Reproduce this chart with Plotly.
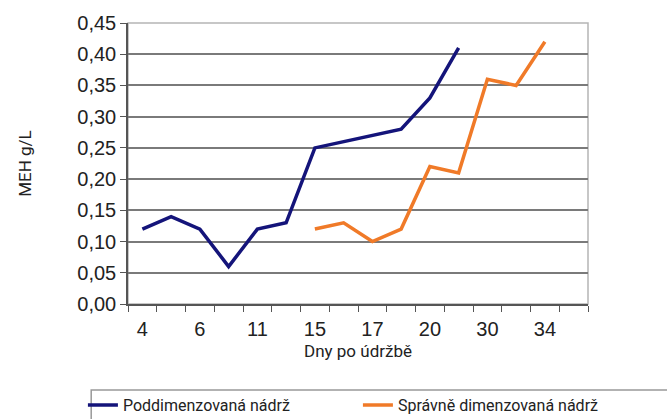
import plotly.graph_objects as go

# Category axis: 16 day categories, only every other one labelled
category_labels = ["4", "", "6", "", "11", "", "15", "", "17", "", "20", "", "30", "", "34", ""]
positions = list(range(len(category_labels)))

under_name = "Poddimenzovaná nádrž"
under_values = [0.12, 0.14, 0.12, 0.06, 0.12, 0.13, 0.25, 0.26, 0.27, 0.28, 0.33, 0.41]

proper_name = "Správně dimenzovaná nádrž"
proper_start = 6
proper_values = [0.12, 0.13, 0.10, 0.12, 0.22, 0.21, 0.36, 0.35, 0.42]

y_ticks = [0, 0.05, 0.10, 0.15, 0.20, 0.25, 0.30, 0.35, 0.40, 0.45]

fig = go.Figure()
fig.add_trace(go.Scatter(
    x=positions[:len(under_values)], y=under_values, mode="lines", name=under_name,
    line=dict(color="#14147a", width=3.5),
))
fig.add_trace(go.Scatter(
    x=positions[proper_start:proper_start + len(proper_values)], y=proper_values,
    mode="lines", name=proper_name,
    line=dict(color="#f07a28", width=3.5),
))

label_idx = [i for i, t in enumerate(category_labels) if t]
fig.update_xaxes(
    range=[-0.5, len(category_labels) - 0.5],
    tickmode="array", tickvals=label_idx, ticktext=[category_labels[i] for i in label_idx],
    ticks="", showgrid=False, zeroline=False,
    showline=True, linecolor="#555555", linewidth=1.5,
    ticklabelstandoff=6,
    tickfont=dict(family="Liberation Sans, Arial", size=20, color="#222222"),
    minor=dict(tickmode="linear", tick0=-0.5, dtick=1, ticks="outside", ticklen=6,
               tickcolor="#555555", tickwidth=1.2, showgrid=False),
    title=dict(text="Dny po údržbě", font=dict(family="Roboto", size=17, color="#222222"), standoff=6),
)
fig.update_yaxes(
    range=[0, 0.45], tickmode="array", tickvals=y_ticks,
    tickformat=".2f", ticks="outside", ticklen=6, tickcolor="#555555", tickwidth=1.2,
    showgrid=True, gridcolor="#7a7a7a", gridwidth=1.5, zeroline=False,
    showline=True, linecolor="#555555", linewidth=1.5,
    tickfont=dict(family="Liberation Sans, Arial", size=20, color="#222222"),
    title=dict(text="MEH g/L", font=dict(family="Roboto", size=17, color="#222222"), standoff=41),
)

# light grey frame on top and right of plot area
fig.add_shape(type="rect", xref="paper", yref="paper", x0=0, y0=0, x1=1, y1=1,
              line=dict(color="#b5b5b5", width=1.5), layer="below")
# legend frame
fig.add_shape(type="rect", xref="paper", yref="paper", x0=-0.080, x1=1.2, y0=-0.306, y1=-0.45,
              line=dict(color="#999999", width=1.5), fillcolor="rgba(0,0,0,0)")

fig.update_layout(
    width=667, height=419,
    margin=dict(l=128, r=79, t=23, b=115, autoexpand=False),
    paper_bgcolor="white", plot_bgcolor="white",
    separators=", ",
    showlegend=True,
    legend=dict(orientation="h", x=-0.098, xanchor="left", y=-0.36, yanchor="middle",
                font=dict(family="Roboto", size=16, color="#222222"),
                itemwidth=30, entrywidth=230, entrywidthmode="pixels",
                tracegroupgap=0, bgcolor="rgba(0,0,0,0)"),
)

fig.write_html("out.html", config={"displayModeBar": False},
               post_script="document.body.style.margin='0';document.body.style.overflow='hidden';")
